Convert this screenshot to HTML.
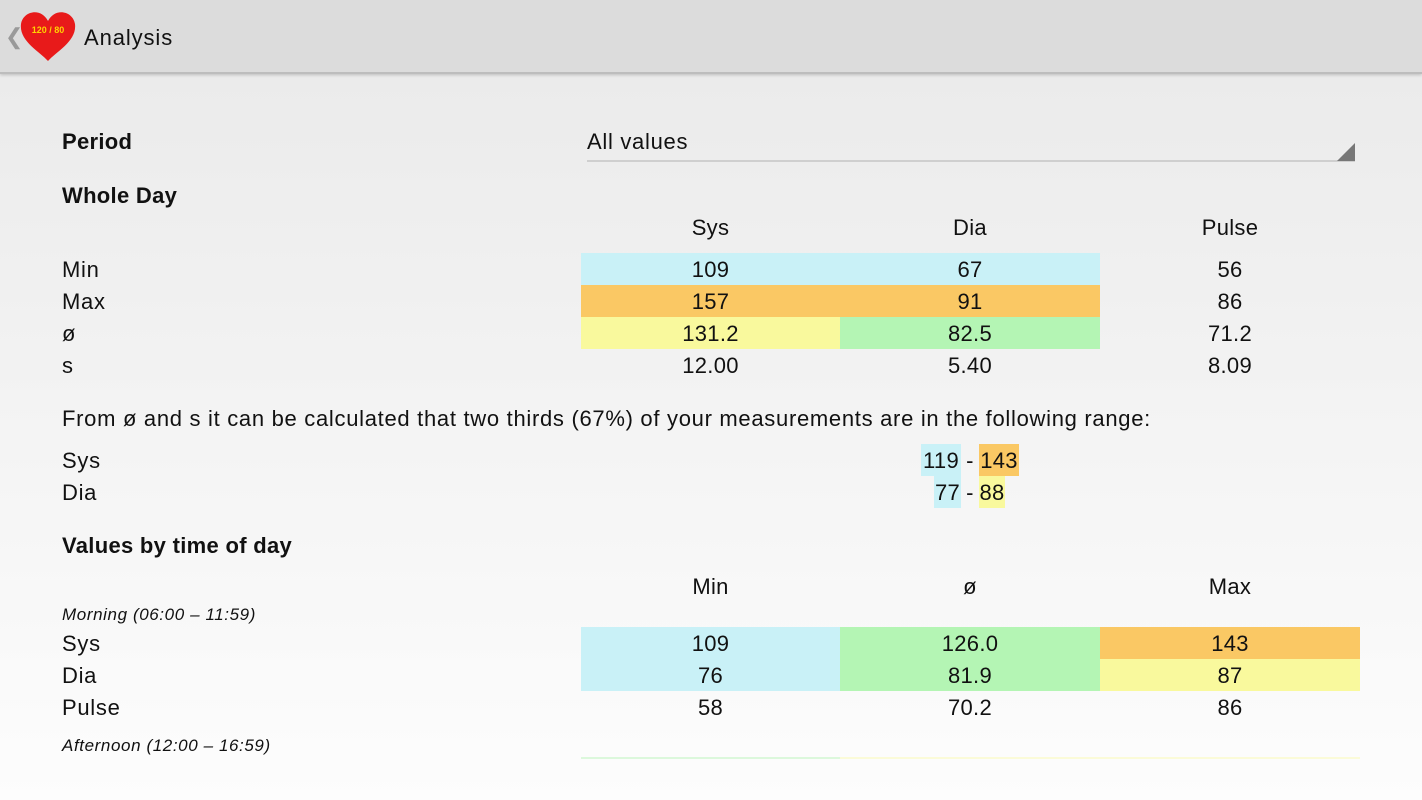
<!DOCTYPE html>
<html><head><style>
body{margin:0;width:1422px;height:800px;overflow:hidden;font-family:"Liberation Sans",sans-serif;color:#111;background:linear-gradient(#ebebeb 80px,#f3f3f3 400px,#fdfdfd 800px);position:relative}
.hdr{position:absolute;left:0;top:0;width:1422px;height:72px;background:#dcdcdc;border-bottom:2px solid #bdbdbd;box-shadow:0 1px 3px rgba(0,0,0,.2)}
.t{position:absolute;font-size:22px;line-height:33px;white-space:nowrap;letter-spacing:0.7px}
.b{font-weight:bold;letter-spacing:0.3px}
.c{position:absolute;height:32px;line-height:33px;text-align:center;font-size:22px;letter-spacing:0.3px}
.i{position:absolute;font-style:italic;font-size:17px;letter-spacing:0.6px;white-space:nowrap}
.blue{background:#c9f1f7}.or{background:#fac864}.ye{background:#f9f99d}.gr{background:#b4f5b4}
</style></head><body>
<div class="hdr">
<div style="position:absolute;left:5px;top:24px;color:#999;font-size:22px">&#10094;</div>
<svg style="position:absolute;left:19px;top:9px" width="58" height="52" viewBox="0 0 58 52"><path d="M29 52 C20 42 0 32 2 15 C4 2 22 -2 29 12 C36 -2 54 2 56 15 C58 32 38 42 29 52Z" fill="#e81a1a"/><text x="29" y="24" font-size="9" font-weight="bold" fill="#ffd400" text-anchor="middle" font-family="Liberation Sans">120 / 80</text></svg>
<div class="t" style="left:84px;top:21px;font-size:22px;letter-spacing:0.9px">Analysis</div>
</div>
<div class="t b" style="left:62px;top:125px">Period</div>
<div class="t" style="left:587px;top:125px">All values</div>
<div style="position:absolute;left:587px;top:160px;width:768px;height:2px;background:#cfcfcf"></div>
<svg style="position:absolute;left:1337px;top:143px" width="18" height="18"><polygon points="18,0 18,18 0,18" fill="#777"/></svg>
<div class="t b" style="left:62px;top:179px">Whole Day</div>
<div class="c" style="left:581px;width:259px;top:211px">Sys</div>
<div class="c" style="left:840px;width:260px;top:211px">Dia</div>
<div class="c" style="left:1100px;width:260px;top:211px">Pulse</div>
<div class="t" style="left:62px;top:253px">Min</div>
<div class="t" style="left:62px;top:285px">Max</div>
<div class="t" style="left:62px;top:317px">ø</div>
<div class="t" style="left:62px;top:349px">s</div>
<div class="c blue" style="left:581px;width:259px;top:253px">109</div>
<div class="c blue" style="left:840px;width:260px;top:253px">67</div>
<div class="c" style="left:1100px;width:260px;top:253px">56</div>
<div class="c or" style="left:581px;width:259px;top:285px">157</div>
<div class="c or" style="left:840px;width:260px;top:285px">91</div>
<div class="c" style="left:1100px;width:260px;top:285px">86</div>
<div class="c ye" style="left:581px;width:259px;top:317px">131.2</div>
<div class="c gr" style="left:840px;width:260px;top:317px">82.5</div>
<div class="c" style="left:1100px;width:260px;top:317px">71.2</div>
<div class="c" style="left:581px;width:259px;top:349px">12.00</div>
<div class="c" style="left:840px;width:260px;top:349px">5.40</div>
<div class="c" style="left:1100px;width:260px;top:349px">8.09</div>
<div class="t" style="left:62px;top:402px">From ø and s it can be calculated that two thirds (67%) of your measurements are in the following range:</div>
<div class="t" style="left:62px;top:444px">Sys</div>
<div class="t" style="left:62px;top:476px">Dia</div>
<div class="c blue" style="left:921px;width:40px;top:444px">119</div>
<div class="c" style="left:961px;width:18px;top:444px">-</div>
<div class="c or" style="left:979px;width:40px;top:444px">143</div>
<div class="c blue" style="left:934px;width:27px;top:476px">77</div>
<div class="c" style="left:961px;width:18px;top:476px">-</div>
<div class="c ye" style="left:979px;width:26px;top:476px">88</div>
<div class="t b" style="left:62px;top:529px">Values by time of day</div>
<div class="c" style="left:581px;width:259px;top:570px">Min</div>
<div class="c" style="left:840px;width:260px;top:570px">ø</div>
<div class="c" style="left:1100px;width:260px;top:570px">Max</div>
<div class="i" style="left:62px;top:605px">Morning (06:00 – 11:59)</div>
<div class="t" style="left:62px;top:627px">Sys</div>
<div class="t" style="left:62px;top:659px">Dia</div>
<div class="t" style="left:62px;top:691px">Pulse</div>
<div class="c blue" style="left:581px;width:259px;top:627px">109</div>
<div class="c gr" style="left:840px;width:260px;top:627px">126.0</div>
<div class="c or" style="left:1100px;width:260px;top:627px">143</div>
<div class="c blue" style="left:581px;width:259px;top:659px">76</div>
<div class="c gr" style="left:840px;width:260px;top:659px">81.9</div>
<div class="c ye" style="left:1100px;width:260px;top:659px">87</div>
<div class="c" style="left:581px;width:259px;top:691px">58</div>
<div class="c" style="left:840px;width:260px;top:691px">70.2</div>
<div class="c" style="left:1100px;width:260px;top:691px">86</div>
<div class="i" style="left:62px;top:736px">Afternoon (12:00 – 16:59)</div>
<div style="position:absolute;left:581px;top:757px;width:259px;height:2px;background:#dcf8dc"></div>
<div style="position:absolute;left:840px;top:757px;width:520px;height:2px;background:#fbfbd8"></div>
</body></html>
